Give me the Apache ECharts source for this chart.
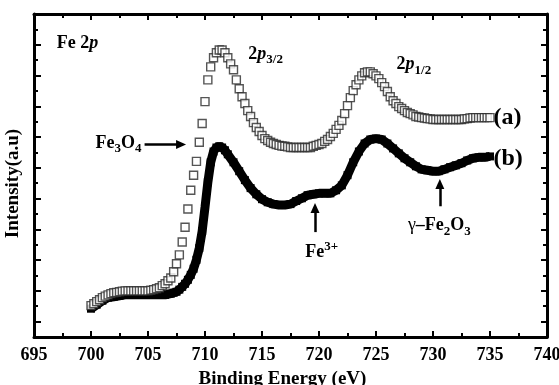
<!DOCTYPE html>
<html>
<head>
<meta charset="utf-8">
<script src="https://cdn.jsdelivr.net/npm/echarts@6/dist/echarts.min.js"></script>
<style>
  html, body { margin: 0; padding: 0; background: #fff; }
  #main { width: 559px; height: 385px; }
</style>
</head>
<body>
<div id="main"></div>
<script>
// (a) open squares: binding energy (eV) and intensity (a.u.)
var energyA = [
  700, 700.25, 700.5, 700.75, 701, 701.25, 701.5, 701.75,
  702, 702.25, 702.5, 702.75, 703, 703.25, 703.5, 703.75,
  704, 704.25, 704.5, 704.75, 705, 705.25, 705.5, 705.75,
  706, 706.25, 706.5, 706.75, 707, 707.25, 707.5, 707.75,
  708, 708.25, 708.5, 708.75, 709, 709.25, 709.5, 709.75,
  710, 710.25, 710.5, 710.75, 711, 711.25, 711.5, 711.75,
  712, 712.25, 712.5, 712.75, 713, 713.25, 713.5, 713.75,
  714, 714.25, 714.5, 714.75, 715, 715.25, 715.5, 715.75,
  716, 716.25, 716.5, 716.75, 717, 717.25, 717.5, 717.75,
  718, 718.25, 718.5, 718.75, 719, 719.25, 719.5, 719.75,
  720, 720.25, 720.5, 720.75, 721, 721.25, 721.5, 721.75,
  722, 722.25, 722.5, 722.75, 723, 723.25, 723.5, 723.75,
  724, 724.25, 724.5, 724.75, 725, 725.25, 725.5, 725.75,
  726, 726.25, 726.5, 726.75, 727, 727.25, 727.5, 727.75,
  728, 728.25, 728.5, 728.75, 729, 729.25, 729.5, 729.75,
  730, 730.25, 730.5, 730.75, 731, 731.25, 731.5, 731.75,
  732, 732.25, 732.5, 732.75, 733, 733.25, 733.5, 733.75,
  734, 734.25, 734.5, 734.75, 735
];
var curveA = [
  0.52, 0.58, 0.65, 0.71, 0.78, 0.83, 0.87, 0.91,
  0.94, 0.95, 0.97, 0.99, 1.00, 1.00, 1.00, 1.00,
  1.00, 1.00, 1.00, 1.00, 1.00, 1.02, 1.04, 1.07,
  1.10, 1.17, 1.23, 1.33, 1.42, 1.62, 1.88, 2.17,
  2.59, 3.07, 3.66, 4.27, 4.76, 5.21, 5.83, 6.44,
  7.15, 7.86, 8.28, 8.58, 8.74, 8.83, 8.83, 8.74,
  8.58, 8.38, 8.19, 7.86, 7.57, 7.31, 7.09, 6.86,
  6.67, 6.47, 6.31, 6.18, 6.05, 5.95, 5.89, 5.83,
  5.79, 5.76, 5.73, 5.71, 5.70, 5.68, 5.66, 5.66,
  5.66, 5.66, 5.66, 5.66, 5.66, 5.66, 5.70, 5.73,
  5.76, 5.79, 5.86, 5.92, 6.02, 6.12, 6.25, 6.38,
  6.54, 6.76, 7.02, 7.28, 7.51, 7.70, 7.86, 7.99,
  8.09, 8.12, 8.12, 8.06, 7.99, 7.90, 7.77, 7.64,
  7.48, 7.31, 7.18, 7.09, 6.99, 6.93, 6.86, 6.80,
  6.76, 6.72, 6.67, 6.65, 6.63, 6.62, 6.60, 6.59,
  6.57, 6.57, 6.57, 6.57, 6.57, 6.57, 6.57, 6.57,
  6.57, 6.57, 6.57, 6.59, 6.60, 6.62, 6.63, 6.63,
  6.63, 6.63, 6.63, 6.63, 6.63
];
// (b) filled squares
var energyB = [
  700, 700.5, 701, 701.5, 702, 702.5, 703, 703.5, 704, 704.5, 705, 705.5, 706, 706.5,
  707, 707.25, 707.5, 707.75, 708, 708.25, 708.5, 708.75, 709, 709.25, 709.5, 709.75,
  710, 710.25, 710.5, 710.75, 711, 711.25, 711.5, 711.75,
  712, 712.5, 713, 713.5, 714, 714.5, 715, 715.5, 716, 716.5, 717, 717.5, 718, 718.5,
  719, 719.5, 720, 720.5, 721, 721.5, 722, 722.5, 723, 723.5, 724, 724.5, 725, 725.5,
  726, 726.5, 727, 727.5, 728, 728.5, 729, 729.5, 730, 730.5, 731, 731.5, 732, 732.5,
  733, 733.5, 734, 734.5, 735
];
var curveB = [
  0.42, 0.55, 0.68, 0.78, 0.81, 0.84, 0.87, 0.87, 0.87, 0.87, 0.87, 0.87, 0.87, 0.87,
  0.91, 0.94, 0.97, 1.04, 1.13, 1.23, 1.36, 1.52, 1.72, 2.01, 2.39, 2.94,
  3.72, 4.53, 5.18, 5.53, 5.66, 5.70, 5.66, 5.57,
  5.44, 5.18, 4.89, 4.60, 4.34, 4.14, 3.98, 3.88, 3.82, 3.79, 3.79, 3.82, 3.92, 4.01,
  4.11, 4.14, 4.17, 4.17, 4.17, 4.27, 4.43, 4.76, 5.18, 5.53, 5.79, 5.92, 5.95, 5.92,
  5.79, 5.63, 5.47, 5.31, 5.18, 5.05, 4.95, 4.92, 4.89, 4.89, 4.95, 5.02, 5.08, 5.15,
  5.24, 5.31, 5.34, 5.34, 5.37
];
var yMajor = [0, 1, 2, 3, 4, 5, 6, 7, 8, 9, 10];
var yMinor = [0.5, 1.5, 2.5, 3.5, 4.5, 5.5, 6.5, 7.5, 8.5, 9.5];

var F = 'Liberation Serif';

var seriesA = energyA.map(function (e, i) { return [e, curveA[i]]; });
var seriesB = energyB.map(function (e, i) { return [e, curveB[i]]; });

function xAx(pos, labels) {
  return {
    type: 'value', position: pos, min: 695, max: 740, interval: 5,
    axisLine: { show: true, onZero: false, lineStyle: { color: '#000', width: 3 } },
    axisTick: { show: true, inside: true, length: 6, lineStyle: { color: '#000', width: 2 } },
    minorTick: { show: true, splitNumber: 2, length: 4, lineStyle: { color: '#000', width: 2 } },
    splitLine: { show: false },
    minorSplitLine: { show: false },
    axisLabel: {
      show: labels, color: '#000', fontFamily: F, fontWeight: 'bold', fontSize: 18,
      margin: 9, showMinLabel: true, showMaxLabel: true
    }
  };
}
function yAx(pos, ticks, len, line) {
  return {
    type: 'value', position: pos, min: -0.5, max: 10,
    axisLine: { show: line, onZero: false, lineStyle: { color: '#000', width: 3 } },
    axisTick: { show: true, inside: true, length: len, customValues: ticks,
      lineStyle: { color: '#000', width: 2 } },
    axisLabel: { show: false },
    splitLine: { show: false }
  };
}

var xBottom = xAx('bottom', true);
xBottom.name = 'Binding Energy (eV)';
xBottom.nameLocation = 'middle';
xBottom.nameGap = 33;
xBottom.nameTextStyle = { color: '#000', fontFamily: F, fontWeight: 'bold', fontSize: 19, padding: [0, 16, 0, 0] };

var yLeft = yAx('left', yMajor, 7, true);
yLeft.name = 'Intensity(a.u)';
yLeft.nameLocation = 'middle';
yLeft.nameGap = 11;
yLeft.nameTextStyle = { color: '#000', fontFamily: F, fontWeight: 'bold', fontSize: 19, padding: [0, 16, 0, 0] };

var option = {
  animation: false,
  backgroundColor: '#fff',
  grid: { left: 34, right: 12, top: 14, bottom: 48, containLabel: false, outerBoundsMode: 'none' },
  xAxis: [xBottom, xAx('top', false)],
  yAxis: [yLeft, yAx('left', yMinor, 4, false), yAx('right', yMajor, 6, true), yAx('right', yMinor, 4, false)],
  series: [
    {
      name: '(b)', type: 'line', data: seriesB, z: 2,
      symbol: 'rect', symbolSize: 8, showAllSymbol: true,
      itemStyle: { color: '#000' },
      lineStyle: { color: '#000', width: 9 },
      markLine: {
        silent: true, symbol: ['none', 'triangle'], symbolSize: [9, 10],
        label: { show: false },
        lineStyle: { color: '#000', width: 2.5, type: 'solid' },
        data: [
          [{ coord: [704.7, 5.76] }, { coord: [707.9, 5.76] }],
          [{ coord: [719.65, 2.91] }, { coord: [719.65, 3.69] }],
          [{ coord: [730.6, 3.75] }, { coord: [730.6, 4.47] }]
        ]
      }
    },
    {
      name: '(a)', type: 'scatter', data: seriesA, z: 3,
      symbol: 'rect', symbolSize: 8,
      itemStyle: { color: '#fff', borderColor: '#2a2a2a', borderWidth: 1.4 }
    }
  ]
};

var chart = echarts.init(document.getElementById('main'));
chart.setOption(option);

var base = { fontFamily: F, fontWeight: 'bold', fontSize: 18, color: '#000', lineHeight: 24 };
var rich = {
  t: base,
  ti: Object.assign({}, base, { fontStyle: 'italic' }),
  big: Object.assign({}, base, { fontSize: 24, lineHeight: 26 }),
  sub: { fontFamily: F, fontWeight: 'bold', fontSize: 13, color: '#000', verticalAlign: 'bottom', lineHeight: 13 },
  sup: { fontFamily: F, fontWeight: 'bold', fontSize: 13, color: '#000', verticalAlign: 'top', lineHeight: 13 },
  g: { fontFamily: F, fontSize: 18, color: '#000', lineHeight: 24 }
};

var notes = [
  { x: 697.0, y: 9.06, text: '{t|Fe 2}{ti|p}' },
  { x: 713.8, y: 8.70, text: '{t|2}{ti|p}{sub|3/2}' },
  { x: 726.8, y: 8.35, text: '{t|2}{ti|p}{sub|1/2}' },
  { x: 735.3, y: 6.63, text: '{big|(a)}' },
  { x: 735.3, y: 5.28, text: '{big|(b)}' },
  { x: 700.4, y: 5.80, text: '{t|Fe}{sub|3}{t|O}{sub|4}' },
  { x: 718.8, y: 2.25, text: '{t|Fe}{sup|3+}' },
  { x: 727.8, y: 3.12, text: '{g|γ}{t|–Fe}{sub|2}{t|O}{sub|3}' }
];

chart.setOption({
  graphic: notes.map(function (n) {
    var p = chart.convertToPixel({ xAxisIndex: 0, yAxisIndex: 0 }, [n.x, n.y]);
    return {
      type: 'text', x: p[0], y: p[1], silent: true,
      style: { text: n.text, rich: rich, align: 'left', verticalAlign: 'middle' }
    };
  })
});
</script>
</body>
</html>
